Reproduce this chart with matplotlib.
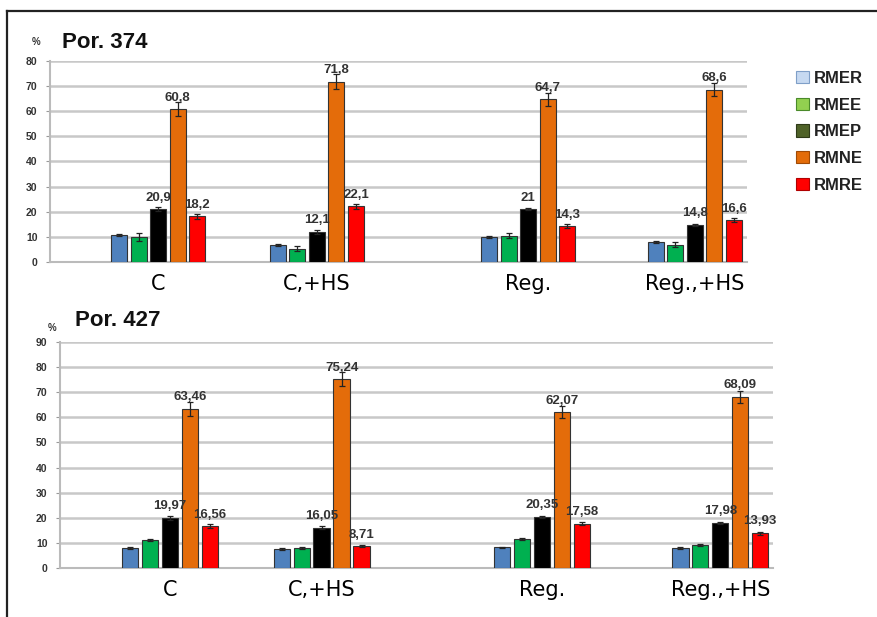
import numpy as np
import matplotlib
matplotlib.use("Agg")
import matplotlib.pyplot as plt
from matplotlib.patches import Patch
from matplotlib.lines import Line2D

groups = ["C", "C,+HS", "Reg.", "Reg.,+HS"]
series = ["RMER", "RMEE", "RMEP", "RMNE", "RMRE"]

# Por. 374 -- rows are groups, columns are series
por374 = np.array([
    [10.9, 9.9, 20.9, 60.8, 18.2],
    [6.8, 5.3, 12.1, 71.8, 22.1],
    [10.1, 10.5, 21.0, 64.7, 14.3],
    [8.0, 6.8, 14.8, 68.6, 16.6],
])
por374_err = np.array([
    [0.4, 1.5, 0.8, 2.8, 1.0],
    [0.4, 1.0, 0.8, 3.0, 1.0],
    [0.4, 1.0, 0.5, 2.5, 0.8],
    [0.3, 1.0, 0.5, 2.5, 0.8],
])
por374_labels = [
    ["20,9", "60,8", "18,2"],
    ["12,1", "71,8", "22,1"],
    ["21", "64,7", "14,3"],
    ["14,8", "68,6", "16,6"],
]

# Por. 427
por427 = np.array([
    [8.0, 11.2, 19.97, 63.46, 16.56],
    [7.6, 7.8, 16.05, 75.24, 8.71],
    [8.2, 11.4, 20.35, 62.07, 17.58],
    [8.0, 9.2, 17.98, 68.09, 13.93],
])
por427_err = np.array([
    [0.3, 0.5, 0.8, 2.8, 0.8],
    [0.3, 0.4, 0.7, 2.8, 0.4],
    [0.3, 0.4, 0.5, 2.5, 0.6],
    [0.3, 0.4, 0.5, 2.3, 0.6],
])
por427_labels = [
    ["19,97", "63,46", "16,56"],
    ["16,05", "75,24", "8,71"],
    ["20,35", "62,07", "17,58"],
    ["17,98", "68,09", "13,93"],
]

bar_colors = ["#4f81bd", "#00b050", "#000000", "#e46c0a", "#ff0000"]
legend_colors = ["#c6d9f1", "#92d050", "#4f6228", "#e36c09", "#ff0000"]
legend_edges = ["#7f9fc8", "#4a8a2a", "#2e3a18", "#a04a05", "#b00000"]

plt.rcParams["font.family"] = ["Liberation Sans", "DejaVu Sans"]

fig = plt.figure(figsize=(8.78, 6.17), dpi=100)
fig.patch.set_facecolor("white")


def draw_panel(ax, vals, errs, labels, centers, ymax, title, title_xy, pct_xy):
    width = 0.023
    pitch = 0.028
    offsets = (np.arange(len(series)) - 2) * pitch
    for j in range(len(series)):
        xs = np.array(centers) + offsets[j]
        ax.bar(xs, vals[:, j], width, color=bar_colors[j], edgecolor="#333333",
               linewidth=0.8, zorder=3)
        ax.errorbar(xs, vals[:, j], yerr=errs[:, j], fmt="none", ecolor="#222222",
                    elinewidth=0.9, capsize=2.5, capthick=0.9, zorder=4)
    # values printed over RMEP, RMNE and RMRE
    for i, c in enumerate(centers):
        for k, j in enumerate([2, 3, 4]):
            ax.text(c + offsets[j], vals[i, j] + 2.2, labels[i][k],
                    ha="center", va="bottom", fontsize=9.5, fontweight="bold",
                    color="#333333", zorder=5)
    ax.set_xlim(0, 1)
    ax.set_ylim(0, ymax)
    ax.set_yticks(np.arange(0, ymax + 1, 10))
    ax.yaxis.grid(True, color="#c8c8c8", linewidth=1.8)
    ax.set_axisbelow(True)
    ax.set_xticks(centers)
    ax.set_xticklabels(groups, fontsize=15, family=["DejaVu Sans"])
    ax.tick_params(axis="x", length=0, pad=9)
    ax.tick_params(axis="y", labelsize=7.5, length=3, color="#999999", pad=6)
    for lab in ax.get_yticklabels():
        lab.set_fontweight("bold")
        lab.set_color("#333333")
    for side in ["top", "right"]:
        ax.spines[side].set_visible(False)
    ax.spines["left"].set_color("#bbbbbb")
    ax.spines["bottom"].set_color("#bbbbbb")
    ax.spines["left"].set_linewidth(1.5)
    ax.spines["bottom"].set_linewidth(1.5)
    fig.text(title_xy[0], title_xy[1], title, fontsize=16, fontweight="bold",
             color="#111111", ha="left", va="center")
    fig.text(pct_xy[0], pct_xy[1], "%", fontsize=7, fontweight="bold",
             color="#333333", ha="center", va="center")


ax1 = fig.add_axes([50 / 878, 1 - 262 / 617, 697 / 878, 201 / 617])
draw_panel(ax1, por374, por374_err, por374_labels,
           [0.155, 0.383, 0.686, 0.925], 80, "Por. 374",
           (62 / 878, 1 - 43 / 617), (36 / 878, 1 - 42 / 617))

ax2 = fig.add_axes([60 / 878, 1 - 568 / 617, 713 / 878, 226 / 617])
draw_panel(ax2, por427, por427_err, por427_labels,
           [0.154, 0.367, 0.676, 0.926], 90, "Por. 427",
           (75 / 878, 1 - 320 / 617), (52 / 878, 1 - 328 / 617))

handles = [Patch(facecolor=c, edgecolor=e, linewidth=0.8)
           for c, e in zip(legend_colors, legend_edges)]
leg = fig.legend(handles, series, loc="upper left",
                 bbox_to_anchor=(781 / 878, 1 - 56 / 617), frameon=False,
                 prop={"size": 12, "weight": "bold"}, labelspacing=0.7,
                 handlelength=0.75, handleheight=0.75, handletextpad=0.35)
for t in leg.get_texts():
    t.set_color("#222222")

# frame lines along the top and left edge
fig.add_artist(Line2D([7 / 878, 1.0], [1 - 11 / 617, 1 - 11 / 617],
                      color="#222222", linewidth=1.6))
fig.add_artist(Line2D([7 / 878, 7 / 878], [0.0, 1 - 11 / 617],
                      color="#222222", linewidth=1.6))

fig.savefig("out.png", dpi=100)
